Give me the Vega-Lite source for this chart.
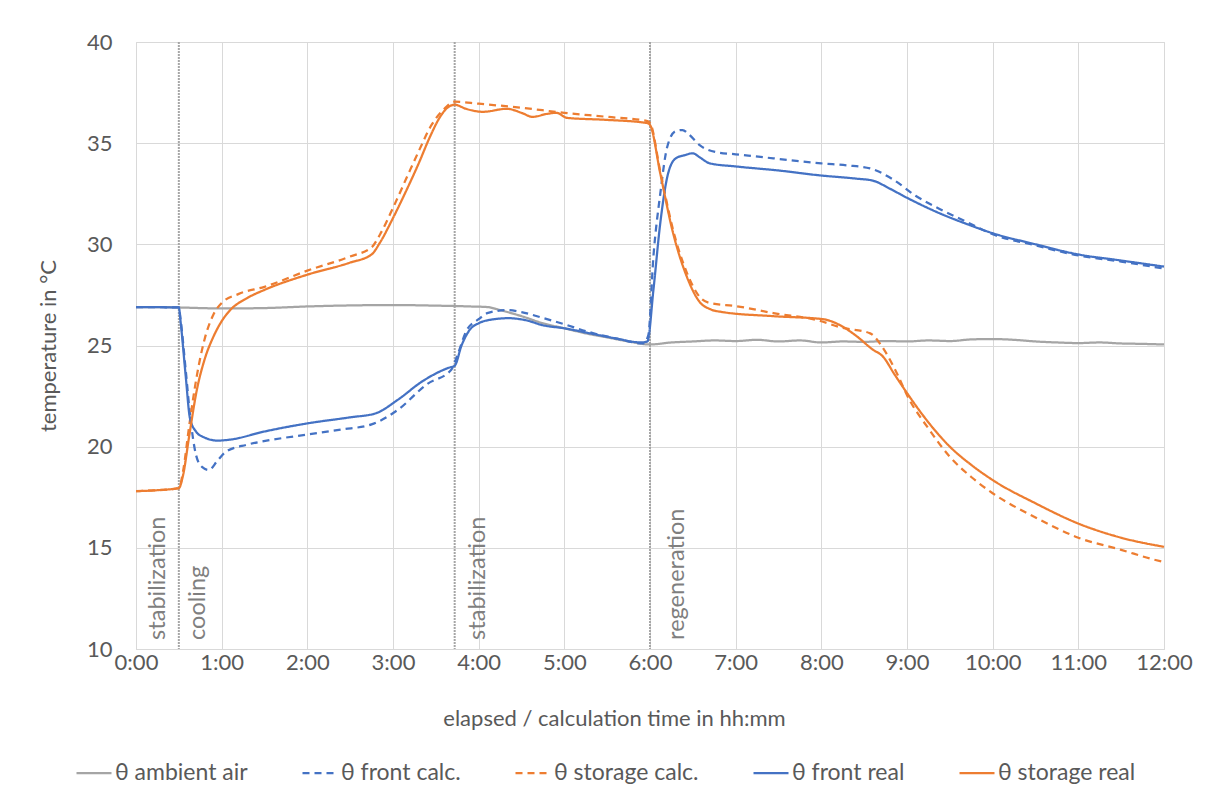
{
  "$schema": "https://vega.github.io/schema/vega-lite/v6.json",
  "width": 1028,
  "height": 607,
  "autosize": {"type": "none"},
  "padding": {"left": 136, "top": 42, "right": 45, "bottom": 146},
  "background": "white",
  "config": {
    "font": "Lato",
    "view": {"stroke": "#D9D9D9"},
    "axis": {"labelFont": "Lato", "titleFont": "Lato", "labelColor": "#595959", "titleColor": "#595959", "labelFontSize": 22, "titleFontSize": 22, "titleFontWeight": "normal", "gridColor": "#D9D9D9", "domainColor": "#D9D9D9", "ticks": false},
    "legend": {"labelFont": "Lato", "labelFontSize": 23, "labelColor": "#595959"}
  },
  "layer": [
    {
      "data": {"values": [{"t": 0.5}, {"t": 3.72}, {"t": 6.0}]},
      "mark": {"type": "rule", "color": "#A6A6A6", "strokeWidth": 2, "strokeDash": [2, 1]},
      "encoding": {"x": {"field": "t", "type": "quantitative", "scale": {"domain": [0, 12], "nice": false}}}
    },
    {
      "data": {"values": [
        {"label": "stabilization", "t": 0.26, "v": 10.45},
        {"label": "cooling", "t": 0.72, "v": 10.45},
        {"label": "stabilization", "t": 3.99, "v": 10.45},
        {"label": "regeneration", "t": 6.31, "v": 10.45}
      ]},
      "mark": {"type": "text", "angle": 270, "align": "left", "baseline": "middle", "fontSize": 23.5, "color": "#7F7F7F", "font": "Lato"},
      "encoding": {
        "x": {"field": "t", "type": "quantitative", "scale": {"domain": [0, 12], "nice": false}},
        "y": {"field": "v", "type": "quantitative", "scale": {"domain": [10, 40], "nice": false, "zero": false}},
        "text": {"field": "label"}
      }
    },
    {
      "data": {"values": [
        {"s": "θ ambient air", "t": 0, "v": 26.9}, {"s": "θ ambient air", "t": 0.25, "v": 26.9}, {"s": "θ ambient air", "t": 0.5, "v": 26.88}, {"s": "θ ambient air", "t": 0.75, "v": 26.85}, {"s": "θ ambient air", "t": 1.0, "v": 26.83}, {"s": "θ ambient air", "t": 1.5, "v": 26.85}, {"s": "θ ambient air", "t": 2.0, "v": 26.93}, {"s": "θ ambient air", "t": 2.5, "v": 26.98}, {"s": "θ ambient air", "t": 3.0, "v": 27.0}, {"s": "θ ambient air", "t": 3.5, "v": 26.97}, {"s": "θ ambient air", "t": 3.9, "v": 26.93}, {"s": "θ ambient air", "t": 4.1, "v": 26.9}, {"s": "θ ambient air", "t": 4.25, "v": 26.75}, {"s": "θ ambient air", "t": 4.5, "v": 26.45}, {"s": "θ ambient air", "t": 4.75, "v": 26.1}, {"s": "θ ambient air", "t": 5.0, "v": 25.85}, {"s": "θ ambient air", "t": 5.25, "v": 25.6}, {"s": "θ ambient air", "t": 5.5, "v": 25.4}, {"s": "θ ambient air", "t": 5.75, "v": 25.2}, {"s": "θ ambient air", "t": 6.0, "v": 25.05}, {"s": "θ ambient air", "t": 6.25, "v": 25.15}, {"s": "θ ambient air", "t": 6.5, "v": 25.2}, {"s": "θ ambient air", "t": 6.75, "v": 25.25}, {"s": "θ ambient air", "t": 7.0, "v": 25.22}, {"s": "θ ambient air", "t": 7.25, "v": 25.28}, {"s": "θ ambient air", "t": 7.5, "v": 25.2}, {"s": "θ ambient air", "t": 7.75, "v": 25.25}, {"s": "θ ambient air", "t": 8.0, "v": 25.15}, {"s": "θ ambient air", "t": 8.25, "v": 25.2}, {"s": "θ ambient air", "t": 8.5, "v": 25.18}, {"s": "θ ambient air", "t": 8.75, "v": 25.22}, {"s": "θ ambient air", "t": 9.0, "v": 25.2}, {"s": "θ ambient air", "t": 9.25, "v": 25.25}, {"s": "θ ambient air", "t": 9.5, "v": 25.22}, {"s": "θ ambient air", "t": 9.75, "v": 25.3}, {"s": "θ ambient air", "t": 10.0, "v": 25.32}, {"s": "θ ambient air", "t": 10.25, "v": 25.28}, {"s": "θ ambient air", "t": 10.5, "v": 25.2}, {"s": "θ ambient air", "t": 10.75, "v": 25.15}, {"s": "θ ambient air", "t": 11.0, "v": 25.12}, {"s": "θ ambient air", "t": 11.25, "v": 25.15}, {"s": "θ ambient air", "t": 11.5, "v": 25.1}, {"s": "θ ambient air", "t": 11.75, "v": 25.08}, {"s": "θ ambient air", "t": 12.0, "v": 25.05},

        {"s": "θ front calc.", "t": 0, "v": 26.9}, {"s": "θ front calc.", "t": 0.5, "v": 26.88}, {"s": "θ front calc.", "t": 0.52, "v": 26.3}, {"s": "θ front calc.", "t": 0.58, "v": 23.8}, {"s": "θ front calc.", "t": 0.63, "v": 21.6}, {"s": "θ front calc.", "t": 0.7, "v": 19.6}, {"s": "θ front calc.", "t": 0.77, "v": 19.0}, {"s": "θ front calc.", "t": 0.85, "v": 18.85}, {"s": "θ front calc.", "t": 0.95, "v": 19.3}, {"s": "θ front calc.", "t": 1.05, "v": 19.75}, {"s": "θ front calc.", "t": 1.3, "v": 20.1}, {"s": "θ front calc.", "t": 1.6, "v": 20.35}, {"s": "θ front calc.", "t": 2.0, "v": 20.6}, {"s": "θ front calc.", "t": 2.4, "v": 20.85}, {"s": "θ front calc.", "t": 2.75, "v": 21.1}, {"s": "θ front calc.", "t": 3.05, "v": 21.8}, {"s": "θ front calc.", "t": 3.4, "v": 23.1}, {"s": "θ front calc.", "t": 3.68, "v": 23.8}, {"s": "θ front calc.", "t": 3.75, "v": 24.5}, {"s": "θ front calc.", "t": 3.86, "v": 25.75}, {"s": "θ front calc.", "t": 4.0, "v": 26.3}, {"s": "θ front calc.", "t": 4.1, "v": 26.6}, {"s": "θ front calc.", "t": 4.33, "v": 26.75}, {"s": "θ front calc.", "t": 4.5, "v": 26.65}, {"s": "θ front calc.", "t": 4.72, "v": 26.4}, {"s": "θ front calc.", "t": 5.0, "v": 26.05}, {"s": "θ front calc.", "t": 5.3, "v": 25.65}, {"s": "θ front calc.", "t": 5.6, "v": 25.35}, {"s": "θ front calc.", "t": 5.92, "v": 25.1}, {"s": "θ front calc.", "t": 5.98, "v": 25.5}, {"s": "θ front calc.", "t": 6.04, "v": 29.4}, {"s": "θ front calc.", "t": 6.12, "v": 32.5}, {"s": "θ front calc.", "t": 6.2, "v": 34.8}, {"s": "θ front calc.", "t": 6.3, "v": 35.6}, {"s": "θ front calc.", "t": 6.38, "v": 35.65}, {"s": "θ front calc.", "t": 6.45, "v": 35.45}, {"s": "θ front calc.", "t": 6.58, "v": 34.9}, {"s": "θ front calc.", "t": 6.78, "v": 34.55}, {"s": "θ front calc.", "t": 7.0, "v": 34.45}, {"s": "θ front calc.", "t": 7.44, "v": 34.25}, {"s": "θ front calc.", "t": 8.0, "v": 34.0}, {"s": "θ front calc.", "t": 8.3, "v": 33.9}, {"s": "θ front calc.", "t": 8.57, "v": 33.75}, {"s": "θ front calc.", "t": 8.84, "v": 33.2}, {"s": "θ front calc.", "t": 9.1, "v": 32.4}, {"s": "θ front calc.", "t": 9.38, "v": 31.75}, {"s": "θ front calc.", "t": 9.7, "v": 31.1}, {"s": "θ front calc.", "t": 10.0, "v": 30.5}, {"s": "θ front calc.", "t": 10.5, "v": 29.95}, {"s": "θ front calc.", "t": 11.0, "v": 29.45}, {"s": "θ front calc.", "t": 11.5, "v": 29.15}, {"s": "θ front calc.", "t": 12.0, "v": 28.8},

        {"s": "θ storage calc.", "t": 0, "v": 17.8}, {"s": "θ storage calc.", "t": 0.5, "v": 17.95}, {"s": "θ storage calc.", "t": 0.55, "v": 18.8}, {"s": "θ storage calc.", "t": 0.62, "v": 21.0}, {"s": "θ storage calc.", "t": 0.71, "v": 23.5}, {"s": "θ storage calc.", "t": 0.8, "v": 25.3}, {"s": "θ storage calc.", "t": 0.9, "v": 26.5}, {"s": "θ storage calc.", "t": 1.0, "v": 27.1}, {"s": "θ storage calc.", "t": 1.2, "v": 27.55}, {"s": "θ storage calc.", "t": 1.5, "v": 27.9}, {"s": "θ storage calc.", "t": 2.0, "v": 28.7}, {"s": "θ storage calc.", "t": 2.5, "v": 29.4}, {"s": "θ storage calc.", "t": 2.75, "v": 29.85}, {"s": "θ storage calc.", "t": 2.85, "v": 30.5}, {"s": "θ storage calc.", "t": 3.0, "v": 31.8}, {"s": "θ storage calc.", "t": 3.16, "v": 33.3}, {"s": "θ storage calc.", "t": 3.3, "v": 34.6}, {"s": "θ storage calc.", "t": 3.45, "v": 35.9}, {"s": "θ storage calc.", "t": 3.6, "v": 36.7}, {"s": "θ storage calc.", "t": 3.72, "v": 37.05}, {"s": "θ storage calc.", "t": 4.0, "v": 36.95}, {"s": "θ storage calc.", "t": 4.5, "v": 36.75}, {"s": "θ storage calc.", "t": 5.0, "v": 36.5}, {"s": "θ storage calc.", "t": 5.5, "v": 36.3}, {"s": "θ storage calc.", "t": 5.96, "v": 36.1}, {"s": "θ storage calc.", "t": 6.0, "v": 36.0}, {"s": "θ storage calc.", "t": 6.12, "v": 33.6}, {"s": "θ storage calc.", "t": 6.27, "v": 30.7}, {"s": "θ storage calc.", "t": 6.43, "v": 28.6}, {"s": "θ storage calc.", "t": 6.58, "v": 27.4}, {"s": "θ storage calc.", "t": 6.7, "v": 27.1}, {"s": "θ storage calc.", "t": 7.0, "v": 26.95}, {"s": "θ storage calc.", "t": 7.44, "v": 26.6}, {"s": "θ storage calc.", "t": 8.0, "v": 26.2}, {"s": "θ storage calc.", "t": 8.22, "v": 25.9}, {"s": "θ storage calc.", "t": 8.57, "v": 25.6}, {"s": "θ storage calc.", "t": 8.7, "v": 25.0}, {"s": "θ storage calc.", "t": 8.85, "v": 23.9}, {"s": "θ storage calc.", "t": 9.03, "v": 22.3}, {"s": "θ storage calc.", "t": 9.25, "v": 20.9}, {"s": "θ storage calc.", "t": 9.5, "v": 19.5}, {"s": "θ storage calc.", "t": 9.75, "v": 18.5}, {"s": "θ storage calc.", "t": 10.0, "v": 17.7}, {"s": "θ storage calc.", "t": 10.5, "v": 16.5}, {"s": "θ storage calc.", "t": 11.0, "v": 15.5}, {"s": "θ storage calc.", "t": 11.5, "v": 14.9}, {"s": "θ storage calc.", "t": 11.9, "v": 14.4}, {"s": "θ storage calc.", "t": 12.0, "v": 14.3},

        {"s": "θ front real", "t": 0, "v": 26.9}, {"s": "θ front real", "t": 0.5, "v": 26.88}, {"s": "θ front real", "t": 0.52, "v": 26.2}, {"s": "θ front real", "t": 0.58, "v": 23.5}, {"s": "θ front real", "t": 0.63, "v": 21.4}, {"s": "θ front real", "t": 0.7, "v": 20.75}, {"s": "θ front real", "t": 0.8, "v": 20.45}, {"s": "θ front real", "t": 0.95, "v": 20.3}, {"s": "θ front real", "t": 1.1, "v": 20.35}, {"s": "θ front real", "t": 1.5, "v": 20.75}, {"s": "θ front real", "t": 2.0, "v": 21.15}, {"s": "θ front real", "t": 2.5, "v": 21.45}, {"s": "θ front real", "t": 2.8, "v": 21.65}, {"s": "θ front real", "t": 3.05, "v": 22.3}, {"s": "θ front real", "t": 3.35, "v": 23.25}, {"s": "θ front real", "t": 3.65, "v": 23.9}, {"s": "θ front real", "t": 3.72, "v": 24.0}, {"s": "θ front real", "t": 3.8, "v": 25.0}, {"s": "θ front real", "t": 3.9, "v": 25.8}, {"s": "θ front real", "t": 4.0, "v": 26.1}, {"s": "θ front real", "t": 4.15, "v": 26.28}, {"s": "θ front real", "t": 4.35, "v": 26.35}, {"s": "θ front real", "t": 4.55, "v": 26.25}, {"s": "θ front real", "t": 4.75, "v": 26.0}, {"s": "θ front real", "t": 5.0, "v": 25.85}, {"s": "θ front real", "t": 5.3, "v": 25.6}, {"s": "θ front real", "t": 5.6, "v": 25.35}, {"s": "θ front real", "t": 5.9, "v": 25.15}, {"s": "θ front real", "t": 5.97, "v": 25.2}, {"s": "θ front real", "t": 6.04, "v": 27.75}, {"s": "θ front real", "t": 6.12, "v": 31.05}, {"s": "θ front real", "t": 6.2, "v": 33.3}, {"s": "θ front real", "t": 6.3, "v": 34.25}, {"s": "θ front real", "t": 6.4, "v": 34.4}, {"s": "θ front real", "t": 6.5, "v": 34.5}, {"s": "θ front real", "t": 6.58, "v": 34.3}, {"s": "θ front real", "t": 6.7, "v": 34.0}, {"s": "θ front real", "t": 7.0, "v": 33.85}, {"s": "θ front real", "t": 7.5, "v": 33.65}, {"s": "θ front real", "t": 8.0, "v": 33.4}, {"s": "θ front real", "t": 8.4, "v": 33.25}, {"s": "θ front real", "t": 8.6, "v": 33.15}, {"s": "θ front real", "t": 8.8, "v": 32.75}, {"s": "θ front real", "t": 9.0, "v": 32.3}, {"s": "θ front real", "t": 9.4, "v": 31.5}, {"s": "θ front real", "t": 9.7, "v": 31.0}, {"s": "θ front real", "t": 10.0, "v": 30.55}, {"s": "θ front real", "t": 10.5, "v": 30.0}, {"s": "θ front real", "t": 11.0, "v": 29.5}, {"s": "θ front real", "t": 11.5, "v": 29.2}, {"s": "θ front real", "t": 12.0, "v": 28.9},

        {"s": "θ storage real", "t": 0, "v": 17.8}, {"s": "θ storage real", "t": 0.25, "v": 17.85}, {"s": "θ storage real", "t": 0.5, "v": 17.95}, {"s": "θ storage real", "t": 0.55, "v": 18.6}, {"s": "θ storage real", "t": 0.62, "v": 20.5}, {"s": "θ storage real", "t": 0.71, "v": 22.8}, {"s": "θ storage real", "t": 0.8, "v": 24.3}, {"s": "θ storage real", "t": 0.9, "v": 25.4}, {"s": "θ storage real", "t": 1.0, "v": 26.2}, {"s": "θ storage real", "t": 1.1, "v": 26.75}, {"s": "θ storage real", "t": 1.3, "v": 27.35}, {"s": "θ storage real", "t": 1.5, "v": 27.75}, {"s": "θ storage real", "t": 2.0, "v": 28.5}, {"s": "θ storage real", "t": 2.5, "v": 29.1}, {"s": "θ storage real", "t": 2.75, "v": 29.5}, {"s": "θ storage real", "t": 2.85, "v": 30.1}, {"s": "θ storage real", "t": 3.0, "v": 31.3}, {"s": "θ storage real", "t": 3.16, "v": 32.7}, {"s": "θ storage real", "t": 3.3, "v": 34.0}, {"s": "θ storage real", "t": 3.43, "v": 35.3}, {"s": "θ storage real", "t": 3.55, "v": 36.3}, {"s": "θ storage real", "t": 3.65, "v": 36.8}, {"s": "θ storage real", "t": 3.72, "v": 36.9}, {"s": "θ storage real", "t": 3.85, "v": 36.7}, {"s": "θ storage real", "t": 4.05, "v": 36.55}, {"s": "θ storage real", "t": 4.33, "v": 36.7}, {"s": "θ storage real", "t": 4.5, "v": 36.5}, {"s": "θ storage real", "t": 4.63, "v": 36.3}, {"s": "θ storage real", "t": 4.8, "v": 36.45}, {"s": "θ storage real", "t": 4.91, "v": 36.5}, {"s": "θ storage real", "t": 5.03, "v": 36.25}, {"s": "θ storage real", "t": 5.5, "v": 36.15}, {"s": "θ storage real", "t": 5.96, "v": 36.0}, {"s": "θ storage real", "t": 6.0, "v": 35.9}, {"s": "θ storage real", "t": 6.12, "v": 33.5}, {"s": "θ storage real", "t": 6.27, "v": 30.55}, {"s": "θ storage real", "t": 6.43, "v": 28.4}, {"s": "θ storage real", "t": 6.58, "v": 27.15}, {"s": "θ storage real", "t": 6.7, "v": 26.8}, {"s": "θ storage real", "t": 6.85, "v": 26.65}, {"s": "θ storage real", "t": 7.44, "v": 26.45}, {"s": "θ storage real", "t": 8.02, "v": 26.3}, {"s": "θ storage real", "t": 8.22, "v": 26.0}, {"s": "θ storage real", "t": 8.4, "v": 25.5}, {"s": "θ storage real", "t": 8.6, "v": 24.8}, {"s": "θ storage real", "t": 8.72, "v": 24.45}, {"s": "θ storage real", "t": 8.85, "v": 23.6}, {"s": "θ storage real", "t": 9.0, "v": 22.65}, {"s": "θ storage real", "t": 9.25, "v": 21.2}, {"s": "θ storage real", "t": 9.5, "v": 20.0}, {"s": "θ storage real", "t": 9.75, "v": 19.1}, {"s": "θ storage real", "t": 10.0, "v": 18.35}, {"s": "θ storage real", "t": 10.5, "v": 17.2}, {"s": "θ storage real", "t": 11.0, "v": 16.2}, {"s": "θ storage real", "t": 11.5, "v": 15.5}, {"s": "θ storage real", "t": 12.0, "v": 15.05}
      ]},
      "mark": {"type": "line", "strokeWidth": 2.25, "interpolate": "monotone"},
      "encoding": {
        "x": {"field": "t", "type": "quantitative", "scale": {"domain": [0, 12], "nice": false},
              "axis": {"values": [0,1,2,3,4,5,6,7,8,9,10,11,12], "labelExpr": "datum.value + ':00'", "labelFlush": false, "labelOverlap": false, "labelBound": false, "title": "elapsed / calculation time in hh:mm", "labelPadding": 3, "titlePadding": 35, "titleX": 478, "titleAnchor": "start", "titleAlign": "center", "grid": true}},
        "y": {"field": "v", "type": "quantitative", "scale": {"domain": [10, 40], "nice": false, "zero": false},
              "axis": {"values": [10,15,20,25,30,35,40], "title": "temperature in °C", "labelPadding": 24, "titlePadding": 26, "domain": false, "grid": true}},
        "color": {"field": "s", "type": "nominal", "title": null,
                  "scale": {"domain": ["θ ambient air", "θ front calc.", "θ storage calc.", "θ front real", "θ storage real"], "range": ["#A5A5A5", "#4472C4", "#ED7D31", "#4472C4", "#ED7D31"]},
                  "legend": {"orient": "none", "legendX": -61, "legendY": 712, "direction": "horizontal", "symbolType": "stroke", "symbolSize": 1225, "symbolStrokeWidth": 2.25, "columnPadding": 50, "labelOffset": 2}},
        "strokeDash": {"field": "s", "type": "nominal", "title": null,
                  "scale": {"domain": ["θ ambient air", "θ front calc.", "θ storage calc.", "θ front real", "θ storage real"], "range": [[1, 0], [7, 5], [7, 5], [1, 0], [1, 0]]}}
      }
    }
  ]
}
